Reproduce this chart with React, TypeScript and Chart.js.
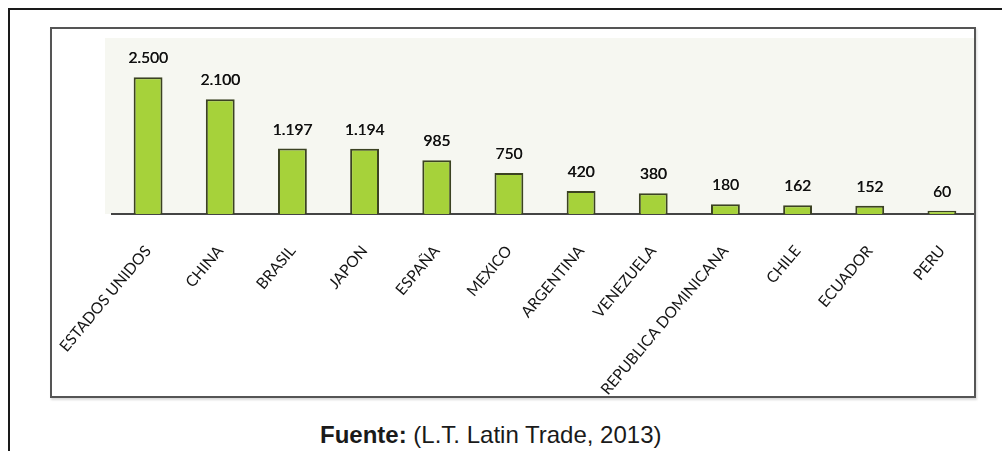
import React, { useEffect, useRef } from "react";
import { Chart, registerables } from "chart.js";

Chart.register(...registerables);

const categories: string[] = [
  "ESTADOS UNIDOS",
  "CHINA",
  "BRASIL",
  "JAPON",
  "ESPAÑA",
  "MEXICO",
  "ARGENTINA",
  "VENEZUELA",
  "REPUBLICA DOMINICANA",
  "CHILE",
  "ECUADOR",
  "PERU",
];

const values: number[] = [2500, 2100, 1197, 1194, 985, 750, 420, 380, 180, 162, 152, 60];

const valueLabels: string[] = [
  "2.500",
  "2.100",
  "1.197",
  "1.194",
  "985",
  "750",
  "420",
  "380",
  "180",
  "162",
  "152",
  "60",
];

const sourceBold = "Fuente:";
const sourceText = " (L.T. Latin Trade, 2013)";

const plotBgPlugin = {
  id: "plotBg",
  beforeDraw(chart: any) {
    const { ctx, chartArea } = chart;
    if (!chartArea) return;
    ctx.save();
    ctx.fillStyle = "#f6f7f1";
    ctx.fillRect(
      chartArea.left - 7,
      chartArea.top - 1,
      chartArea.right - chartArea.left + 7,
      chartArea.bottom - chartArea.top + 1
    );
    ctx.restore();
  },
};

const valueLabelPlugin = {
  id: "valueLabels",
  afterDatasetsDraw(chart: any) {
    const { ctx } = chart;
    const meta = chart.getDatasetMeta(0);
    ctx.save();
    ctx.font = "15.5px Lato";
    ctx.fillStyle = "#111111";
    ctx.textAlign = "center";
    ctx.textBaseline = "alphabetic";
    meta.data.forEach((el: any, i: number) => {
      ctx.fillText(valueLabels[i], el.x, el.y - 14);
      ctx.fillText(valueLabels[i], el.x + 0.4, el.y - 14);
    });
    ctx.restore();
  },
};

function BarChart() {
  const ref = useRef<HTMLCanvasElement | null>(null);
  useEffect(() => {
    if (!ref.current) return;
    const chart = new Chart(ref.current, {
      type: "bar",
      data: {
        labels: categories,
        datasets: [
          {
            data: values,
            backgroundColor: "#a6d23a",
            borderColor: "#3b4222",
            borderWidth: 2,
            barPercentage: 0.8,
            categoryPercentage: 0.5,
          },
        ],
      },
      options: {
        responsive: false,
        animation: false,
        events: [],
        layout: { padding: { left: 60, right: 14, top: 10, bottom: 0 } },
        plugins: {
          legend: { display: false },
          tooltip: { enabled: false },
        },
        scales: {
          x: {
            grid: { display: false, drawTicks: false },
            border: { display: true, color: "#444444", width: 2 },
            ticks: {
              minRotation: 50,
              maxRotation: 50,
              autoSkip: false,
              padding: 28,
              color: "#151515",
              font: { family: "Lato", size: 15.5 },
            },
            afterFit: (scale: any) => {
              scale.height = 182;
              scale.paddingLeft = 0;
              scale.paddingRight = 0;
            },
          },
          y: {
            display: false,
            min: 0,
            max: 3200,
          },
        },
      },
      plugins: [plotBgPlugin, valueLabelPlugin],
    });
    return () => chart.destroy();
  }, []);
  return <canvas ref={ref} width={940} height={367} style={{ display: "block" }} />;
}

export default function App() {
  return (
    <div
      style={{
        position: "absolute",
        left: 0,
        top: 0,
        width: 1002,
        height: 451,
        background: "#ffffff",
        overflow: "hidden",
      }}
    >
      <div
        style={{
          position: "absolute",
          left: 8,
          top: 8,
          width: 1002,
          height: 451,
          borderTop: "2px solid #1a1a1a",
          borderLeft: "2px solid #1a1a1a",
        }}
      />
      <div
        style={{
          position: "absolute",
          left: 50,
          top: 27,
          width: 922,
          height: 367,
          border: "2px solid #555555",
          boxShadow: "1px 2px 2px rgba(0,0,0,0.15)",
          background: "#ffffff",
          overflow: "hidden",
        }}
      >
        <BarChart />
      </div>
      <div
        style={{
          position: "absolute",
          left: 320,
          top: 423,
          fontFamily: "'Liberation Sans', Arial, sans-serif",
          fontSize: 24,
          lineHeight: "24px",
          color: "#1a1a1a",
          whiteSpace: "nowrap",
        }}
      >
        <b>{sourceBold}</b>
        {sourceText}
      </div>
    </div>
  );
}
